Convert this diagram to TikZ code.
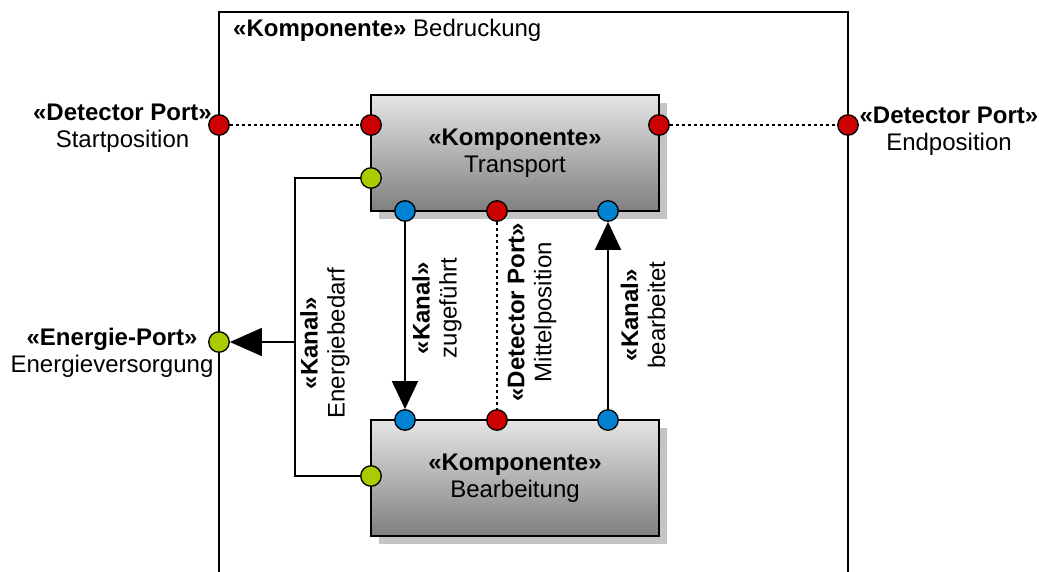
\documentclass[tikz,border=0pt]{standalone}
\usepackage{fontspec}
\setmainfont{Liberation Sans}
\usetikzlibrary{arrows.meta,shadows}
\definecolor{portred}{HTML}{CC0000}
\definecolor{portgreen}{HTML}{A8CC00}
\definecolor{portblue}{HTML}{0082D2}
\definecolor{shadowgray}{HTML}{C4C4C4}
\begin{document}
\begin{tikzpicture}[x=1pt,y=-1pt,
  font=\fontsize{24}{27}\selectfont,
  frame/.style={line width=1.8pt},
  comp/.style={draw=black,line width=1.8pt,top color=black!10,bottom color=black!50,
    minimum width=288pt,minimum height=116pt,inner sep=0pt,align=center,
    drop shadow={shadow xshift=8pt,shadow yshift=-8pt,fill=shadowgray,opacity=1}},
  port/.style={circle,draw=black,line width=1.3pt,minimum size=20.5pt,inner sep=0pt},
  redport/.style={port,fill=portred},
  greenport/.style={port,fill=portgreen},
  blueport/.style={port,fill=portblue},
  detect/.style={line width=1.3pt,dash pattern=on 3pt off 3pt},
  kanal/.style={line width=1.8pt,-{Triangle[length=28pt,width=26pt]}},
  label/.style={align=center,inner sep=0pt},
  vlabel/.style={label,rotate=90}]
\useasboundingbox (0,0) rectangle (1039,572);

% enclosing component
\draw[frame] (219,572) -- (219,12) -- (848,12) -- (848,572);
\node[anchor=west,inner sep=0pt] (title) at (233,30) {\textbf{«Komponente»} Bedruckung};

% inner components
\node[comp] (T) at (515,153) {\textbf{«Komponente»}\\Transport};
\node[comp] (B) at (515,478) {\textbf{«Komponente»}\\Bearbeitung};

% ports
\node[redport] (sP) at (219,125) {};
\node[redport] (tL) at (371,125) {};
\node[redport] (tR) at (659,125) {};
\node[redport] (eP) at (848,125) {};
\node[greenport] (tG) at (371,178) {};
\node[blueport] (tB1) at (405,211) {};
\node[redport] (tM) at (497,211) {};
\node[blueport] (tB2) at (608,211) {};
\node[blueport] (bB1) at (405,420) {};
\node[redport] (bM) at (497,420) {};
\node[blueport] (bB2) at (608,420) {};
\node[greenport] (bG) at (371,476) {};
\node[greenport] (enP) at (219,342) {};

% detector links
\draw[detect] (sP) -- (tL);
\draw[detect] (tR) -- (eP);
\draw[detect] (tM) -- (bM);

% channels
\coordinate (ej) at (295,342);
\draw[line width=1.8pt] (tG) -- (tG -| ej) -- (bG -| ej) -- (bG);
\draw[line width=1.8pt,-{Triangle[length=32pt,width=28pt]}] (ej) -- (enP);
\draw[kanal] (tB1) -- (bB1);
\draw[kanal] (bB2) -- (tB2);

% port labels
\node[label] (lS) at (122.5,128) {\textbf{«Detector Port»}\\Startposition};
\node[label] (lE) at (949,131) {\textbf{«Detector Port»}\\Endposition};
\node[label] (lEn) at (112,353) {\textbf{«Energie-Port»}\\Energieversorgung};

% channel labels
\node[vlabel] (lEb) at (325,343) {\textbf{«Kanal»}\\Energiebedarf};
\node[vlabel] (lZu) at (437,308) {\textbf{«Kanal»}\\zugeführt};
\node[vlabel] (lMi) at (532,312) {\textbf{«Detector Port»}\\Mittelposition};
\node[vlabel] (lBe) at (643,315) {\textbf{«Kanal»}\\bearbeitet};
\end{tikzpicture}
\end{document}
